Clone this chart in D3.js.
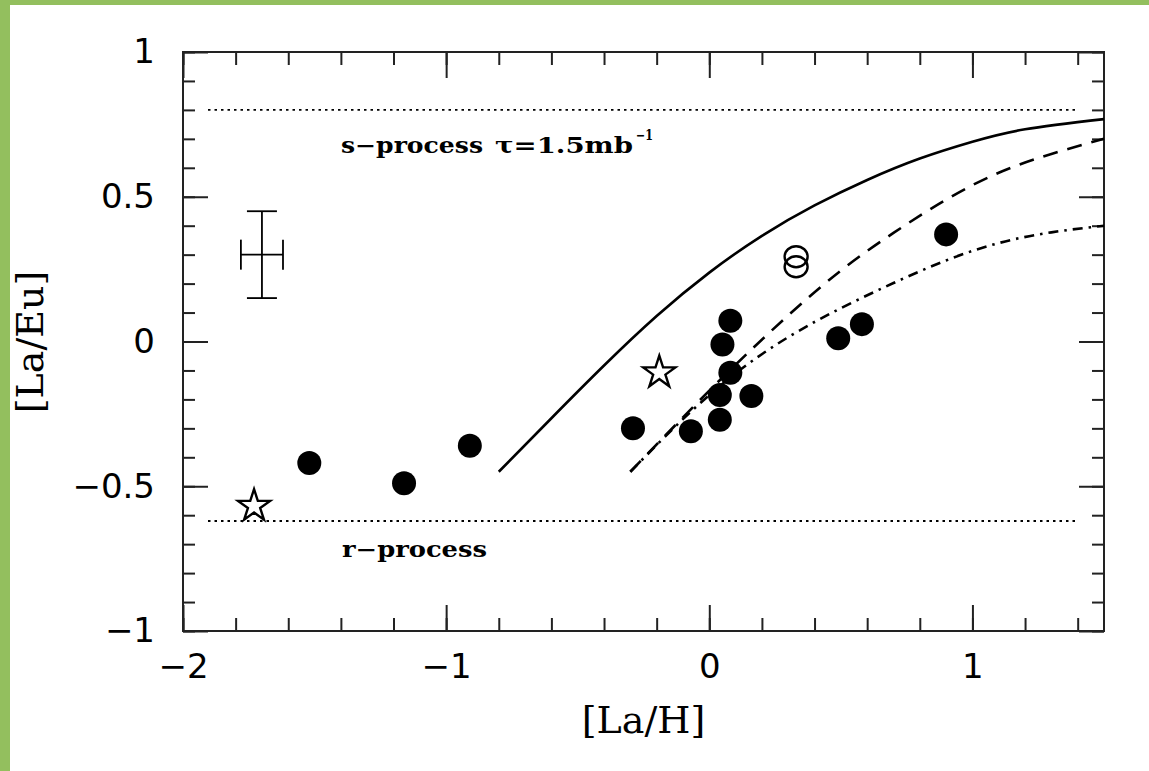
<!DOCTYPE html>
<html><head><meta charset="utf-8">
<script src="https://cdn.jsdelivr.net/npm/d3@7"></script>
<style>
html,body{margin:0;padding:0;background:#fff;}
svg{display:block;}
</style></head>
<body>
<script>
// ---- data ----
const filledStars = [ // filled circles: [La/H], [La/Eu]
  [-1.52,-0.42],[-1.16,-0.49],[-0.91,-0.36],[-0.29,-0.30],[-0.07,-0.31],
  [0.04,-0.27],[0.04,-0.185],[0.08,-0.108],[0.16,-0.188],[0.05,-0.01],
  [0.08,0.072],[0.49,0.011],[0.58,0.06],[0.90,0.37]
];
const openCircles = [[0.33,0.293],[0.33,0.258]];
const starPoints = [[-1.73,-0.565],[-0.19,-0.104]];
const solidCurve = [[-0.80,-0.45],[-0.6,-0.265],[-0.4,-0.083],[-0.2,0.088],[0,0.238],
  [0.2,0.365],[0.4,0.47],[0.6,0.558],[0.8,0.632],[1.0,0.69],[1.2,0.733],[1.5,0.768]];
const dashedCurve = [[-0.30,-0.45],[-0.1,-0.262],[0.1,-0.08],[0.3,0.09],[0.5,0.245],
  [0.7,0.375],[0.9,0.49],[1.1,0.583],[1.3,0.648],[1.5,0.70]];
const dashDotCurve = [[-0.30,-0.45],[-0.1,-0.268],[0.1,-0.11],[0.3,0.015],[0.5,0.115],
  [0.7,0.202],[0.9,0.28],[1.1,0.34],[1.3,0.377],[1.5,0.40]];
const sProcessLevel = 0.80, rProcessLevel = -0.62;
const errorBar = {x:-1.70, y:0.30, dx:0.08, dy:0.15};
const xMajorTicks = [-2,-1,0,1], xTickLabels = ["\u22122","\u22121","0","1"];
const yMajorTicks = [-1,-0.5,0,0.5,1], yTickLabels = ["\u22121","\u22120.5","0","0.5","1"];
const xMinorTicks = d3.range(-20,16,2).map(v=>v/10);
const yMinorTicks = d3.range(-10,11,1).map(v=>v/10);

// ---- layout ----
const W=1149,H=771;
const L=183,R=1104,T=52,B=631;
const svg=d3.select("body").append("svg").attr("width",W).attr("height",H);
svg.append("rect").attr("width",W).attr("height",H).attr("fill","#fff");
svg.append("rect").attr("x",0).attr("y",0).attr("width",10).attr("height",H).attr("fill","#93bf5e");
svg.append("rect").attr("x",0).attr("y",0).attr("width",W).attr("height",5).attr("fill","#93bf5e");

const x=d3.scaleLinear().domain([-2,1.5]).range([L,R]);
const y=d3.scaleLinear().domain([-1,1]).range([B,T]);

const ink="#000";
const tickFont='"DejaVu Sans", sans-serif';
function styleAxis(g){
  g.select(".domain").remove();
  g.selectAll("line").attr("stroke","#222").attr("stroke-width",2);
  g.selectAll("text").attr("font-family",tickFont).attr("font-size",34).attr("fill",ink);
}
// bottom
svg.append("g").attr("transform",`translate(0,${B})`)
  .call(d3.axisBottom(x).tickValues(xMinorTicks).tickSize(-13).tickFormat("")).call(styleAxis);
svg.append("g").attr("transform",`translate(0,${B})`)
  .call(d3.axisBottom(x).tickValues(xMajorTicks).tickSize(-26).tickPadding(23)
  .tickFormat((d,i)=>xTickLabels[i])).call(styleAxis);
// top
svg.append("g").attr("transform",`translate(0,${T})`)
  .call(d3.axisTop(x).tickValues(xMinorTicks).tickSize(-13).tickFormat("")).call(styleAxis);
svg.append("g").attr("transform",`translate(0,${T})`)
  .call(d3.axisTop(x).tickValues(xMajorTicks).tickSize(-26).tickFormat("")).call(styleAxis);
// left
svg.append("g").attr("transform",`translate(${L},0)`)
  .call(d3.axisLeft(y).tickValues(yMinorTicks).tickSize(-12).tickFormat("")).call(styleAxis);
svg.append("g").attr("transform",`translate(${L},0)`)
  .call(d3.axisLeft(y).tickValues(yMajorTicks).tickSize(-25).tickPadding(28)
  .tickFormat((d,i)=>yTickLabels[i])).call(styleAxis);
// right
svg.append("g").attr("transform",`translate(${R},0)`)
  .call(d3.axisRight(y).tickValues(yMinorTicks).tickSize(-12).tickFormat("")).call(styleAxis);
svg.append("g").attr("transform",`translate(${R},0)`)
  .call(d3.axisRight(y).tickValues(yMajorTicks).tickSize(-25).tickFormat("")).call(styleAxis);
// frame
svg.append("rect").attr("x",L).attr("y",T).attr("width",R-L).attr("height",B-T)
  .attr("fill","none").attr("stroke","#222").attr("stroke-width",2);

// dotted reference lines
[sProcessLevel,rProcessLevel].forEach(v=>{
  svg.append("line").attr("x1",x(-1.905)).attr("x2",x(1.405)).attr("y1",y(v)).attr("y2",y(v))
    .attr("stroke",ink).attr("stroke-width",1.8).attr("stroke-dasharray","2.5,4");
});

// curves
const line=d3.line().x(d=>x(d[0])).y(d=>y(d[1])).curve(d3.curveNatural);
svg.append("path").attr("d",line(solidCurve)).attr("fill","none").attr("stroke",ink).attr("stroke-width",2.6);
svg.append("path").attr("d",line(dashedCurve)).attr("fill","none").attr("stroke",ink).attr("stroke-width",2.6)
  .attr("stroke-dasharray","15,10");
svg.append("path").attr("d",line(dashDotCurve)).attr("fill","none").attr("stroke",ink).attr("stroke-width",2.6)
  .attr("stroke-dasharray","10,6,2.5,6");

// error bar
const eb=svg.append("g").attr("stroke",ink).attr("stroke-width",1.8);
eb.append("line").attr("x1",x(errorBar.x)).attr("x2",x(errorBar.x)).attr("y1",y(errorBar.y-errorBar.dy)).attr("y2",y(errorBar.y+errorBar.dy));
eb.append("line").attr("x1",x(errorBar.x-errorBar.dx)).attr("x2",x(errorBar.x+errorBar.dx)).attr("y1",y(errorBar.y)).attr("y2",y(errorBar.y));
[errorBar.y-errorBar.dy,errorBar.y+errorBar.dy].forEach(v=>{
  eb.append("line").attr("x1",x(errorBar.x)-15).attr("x2",x(errorBar.x)+15).attr("y1",y(v)).attr("y2",y(v));
});
[errorBar.x-errorBar.dx,errorBar.x+errorBar.dx].forEach(v=>{
  eb.append("line").attr("x1",x(v)).attr("x2",x(v)).attr("y1",y(errorBar.y)-15).attr("y2",y(errorBar.y)+15);
});

// points
svg.append("g").selectAll("circle").data(filledStars).join("circle")
  .attr("cx",d=>x(d[0])).attr("cy",d=>y(d[1])).attr("r",12).attr("fill",ink);
svg.append("g").selectAll("ellipse").data(openCircles).join("ellipse")
  .attr("cx",d=>x(d[0])).attr("cy",d=>y(d[1])).attr("rx",11.5).attr("ry",10.5)
  .attr("fill","none").attr("stroke",ink).attr("stroke-width",2.4);
const star=d3.symbol().type(d3.symbolStar).size(320);
svg.append("g").selectAll("path").data(starPoints).join("path")
  .attr("transform",d=>`translate(${x(d[0])},${y(d[1])+1})`).attr("d",star)
  .attr("fill","#fff").attr("stroke",ink).attr("stroke-width",2.4);

// annotations
const labFont='"DejaVu Serif", serif';
svg.append("text").attr("x",341).attr("y",153).attr("font-family",labFont).attr("font-weight","bold")
  .attr("font-size",22).attr("textLength",142).attr("lengthAdjust","spacingAndGlyphs").text("s\u2212process");
svg.append("text").attr("x",495).attr("y",153).attr("font-family",labFont).attr("font-weight","bold")
  .attr("font-size",22).attr("textLength",138).attr("lengthAdjust","spacingAndGlyphs").text("\u03c4=1.5mb");
svg.append("text").attr("x",636).attr("y",140).attr("font-family",labFont).attr("font-weight","bold")
  .attr("font-size",14).attr("textLength",17).attr("lengthAdjust","spacingAndGlyphs").text("\u22121");
svg.append("text").attr("x",342).attr("y",557).attr("font-family",labFont).attr("font-weight","bold")
  .attr("font-size",22).attr("textLength",145).attr("lengthAdjust","spacingAndGlyphs").text("r\u2212process");

// axis titles
svg.append("text").attr("x",(L+R)/2).attr("y",733).attr("text-anchor","middle")
  .attr("font-family",labFont).attr("font-size",38).attr("fill",ink).text("[La/H]");
svg.append("text").attr("transform",`translate(43,342) rotate(-90)`).attr("text-anchor","middle")
  .attr("font-family",labFont).attr("font-size",38).attr("fill",ink).text("[La/Eu]");
</script>
</body></html>
